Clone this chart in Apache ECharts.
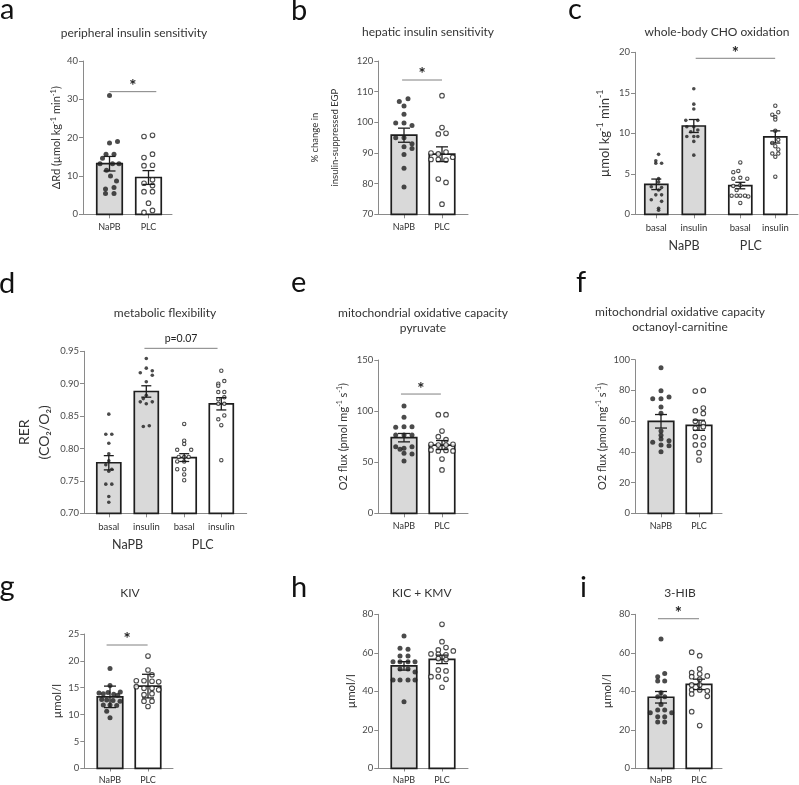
<!DOCTYPE html>
<html><head><meta charset="utf-8">
<script src="https://cdn.jsdelivr.net/npm/echarts@6/dist/echarts.min.js"></script>
<style>html,body{margin:0;padding:0;background:#fff}#c{width:799px;height:785px}</style>
</head><body><div id="c"></div>
<script>
// ================= DATA =================
// a: peripheral insulin sensitivity
const aCats = ['NaPB', 'PLC'];
const aYTicks = [0, 10, 20, 30, 40];
const aMean = [13.2, 9.6];
const aSem = [1.9, 1.8];
const aNaPB = [31.0, 19.0, 18.6, 15.7, 15.7, 14.6, 13.2, 13.2, 13.2, 11.5, 10.0, 8.7, 7.0, 6.6, 5.4, 5.4];
const aPLC = [20.3, 20.6, 14.8, 15.7, 12.7, 12.8, 9.0, 7.5, 8.1, 5.9, 5.9, 2.9, 0.5, 1.0];
// b: hepatic insulin sensitivity
const bCats = ['NaPB', 'PLC'];
const bYTicks = [70, 80, 90, 100, 110, 120];
const bMean = [95.8, 89.6];
const bSem = [2.3, 2.4];
const bNaPB = [106.8, 107.7, 105.3, 102.6, 99.8, 99.8, 99.0, 95.0, 95.0, 93.0, 92.0, 91.5, 89.5, 85.0, 78.9];
const bPLC = [108.7, 98.3, 96.2, 96.4, 90.0, 89.7, 90.3, 87.9, 87.9, 87.7, 88.6, 81.5, 80.4, 73.3];
// c: whole-body CHO oxidation
const cCats = ['basal', 'insulin', 'basal', 'insulin'];
const cGroups = ['NaPB', 'PLC'];
const cYTicks = [0, 5, 10, 15, 20];
const cMean = [3.7, 10.9, 3.55, 9.55];
const cSem = [0.65, 0.8, 0.4, 0.75];
const cNaPBBasal = [7.4, 6.6, 6.3, 6.3, 4.4, 4.0, 3.4, 3.3, 3.0, 2.4, 2.4, 1.8, 1.6, 0.75, 0.5];
const cNaPBIns = [15.5, 13.6, 13.0, 11.6, 11.6, 10.8, 10.8, 10.4, 10.2, 9.6, 9.6, 9.6, 9.0, 7.3];
const cPLCBasal = [6.4, 5.2, 5.35, 4.4, 4.5, 4.4, 3.5, 3.6, 3.0, 2.3, 2.3, 2.3, 2.3, 2.2, 1.4];
const cPLCIns = [13.4, 12.6, 12.3, 12.0, 11.7, 10.3, 9.2, 8.8, 8.4, 8.0, 7.5, 7.5, 7.1, 4.65];
// d: metabolic flexibility (RER)
const dCats = ['basal', 'insulin', 'basal', 'insulin'];
const dGroups = ['NaPB', 'PLC'];
const dYTicks = [0.70, 0.75, 0.80, 0.85, 0.90, 0.95];
const dMean = [0.778, 0.888, 0.786, 0.869];
const dSem = [0.011, 0.0088, 0.006, 0.0095];
const dNaPBBasal = [0.853, 0.822, 0.822, 0.808, 0.792, 0.781, 0.775, 0.768, 0.765, 0.745, 0.745, 0.726, 0.717];
const dNaPBIns = [0.939, 0.924, 0.917, 0.920, 0.913, 0.903, 0.882, 0.877, 0.872, 0.872, 0.869, 0.834, 0.835];
const dPLCBasal = [0.838, 0.812, 0.807, 0.798, 0.798, 0.787, 0.787, 0.787, 0.780, 0.780, 0.768, 0.768, 0.760, 0.751];
const dPLCIns = [0.920, 0.904, 0.900, 0.897, 0.887, 0.887, 0.879, 0.876, 0.869, 0.869, 0.851, 0.845, 0.836, 0.782];
// e: mitochondrial oxidative capacity, pyruvate
const eCats = ['NaPB', 'PLC'];
const eYTicks = [0, 50, 100, 150];
const eMean = [74.0, 66.8];
const eSem = [4.1, 4.4];
const eNaPB = [105, 93.9, 84.1, 84.8, 84.8, 76.6, 76.6, 76.6, 65.2, 62.6, 63.6, 65.2, 58.7, 58.1, 51.2];
const ePLC = [96.5, 96.5, 80.5, 75.0, 72.0, 67.5, 67.5, 66.8, 66.8, 62.0, 61.0, 61.5, 61.0, 53.1, 42.4];
// f: mitochondrial oxidative capacity, octanoyl-carnitine
const fCats = ['NaPB', 'PLC'];
const fYTicks = [0, 20, 40, 60, 80, 100];
const fMean = [59.9, 57.3];
const fSem = [4.4, 3.3];
const fNaPB = [94.8, 79.8, 74.6, 74.6, 75.7, 69.2, 65.1, 53.6, 50.8, 48.4, 46.2, 47.3, 44.5, 44.0, 40.1];
const fPLC = [79.6, 80.0, 66.8, 68.5, 65.0, 60.0, 58.6, 55.3, 56.4, 49.9, 49.2, 44.5, 44.5, 39.5, 34.7];
// g: KIV
const gCats = ['NaPB', 'PLC'];
const gYTicks = [0, 5, 10, 15, 20, 25];
const gMean = [13.3, 15.3];
const gSem = [2.0, 2.2];
const gNaPB = [18.6, 15.4, 14.2, 14.0, 13.9, 14.1, 13.8, 13.6, 12.8, 12.7, 12.6, 12.5, 11.8, 11.8, 11.7, 10.6, 9.4];
const gPLC = [20.9, 18.3, 17.4, 16.3, 16.3, 16.2, 16.1, 15.2, 14.9, 14.9, 14.6, 13.7, 13.9, 12.5, 12.5, 11.5];
// h: KIC + KMV
const hCats = ['NaPB', 'PLC'];
const hYTicks = [0, 20, 40, 60, 80];
const hMean = [53.2, 56.6];
const hSem = [2.2, 2.2];
const hNaPB = [68.7, 62.3, 61.8, 58.4, 58.4, 55.4, 55.4, 55.4, 55.4, 51.6, 51.6, 50.0, 45.9, 45.9, 45.9, 45.9, 34.6];
const hPLC = [74.8, 65.8, 62.7, 61.5, 61.0, 59.4, 59.2, 59.0, 57.0, 56.5, 51.1, 50.6, 47.6, 47.6, 46.2, 42.1];
// i: 3-HIB
const iCats = ['NaPB', 'PLC'];
const iYTicks = [0, 20, 40, 60, 80];
const iMean = [36.9, 43.6];
const iSem = [3.0, 2.7];
const iNaPB = [67.2, 49.2, 47.6, 45.4, 45.4, 39.3, 37.2, 37.2, 33.2, 30.3, 30.3, 28.9, 28.9, 26.8, 26.8, 24.1, 24.1];
const iPLC = [60.3, 58.5, 51.6, 49.7, 49.0, 47.6, 48.0, 46.2, 43.3, 43.3, 40.7, 40.7, 40.2, 38.6, 37.4, 29.4, 22.2];

// ================= LAYOUT (scatter jitter in px) =================
const jit = {
  aNaPB: [0, 8, 0, -3.5, 4.5, -7, -9.5, 3, 9.5, -3, 1, 7, 4.5, -4, -4, 4.5],
  aPLC: [-4.5, 4, -4.5, 4, -4.5, 4, 4, 4, -4.5, -4.5, 4, 0, -4.5, 4],
  bNaPB: [-4.7, 4, 0, 0, -8.3, 0, 8, -8.3, 0, 8, 0, 8, 0, 0, 0],
  bPLC: [0, 0, -3.7, 4, -11, -3.7, 4, -11, -3.7, 4, 10.7, -3.7, 4, 0],
  cNaPBBasal: [2.3, -0.5, -0.5, 5.3, 2.3, 2.3, -5, 5.3, 2.3, -0.5, 5.3, -5, 5.3, 2.3, 2.3],
  cNaPBIns: [0, 0, 0, -8, 4, -7, 0, 4, -3, -7, 0, 4, 0, 0],
  cPLCBasal: [0, -7, -2, -7, 0, 7, -7, 0, -3.7, -8.7, -3.7, 0, 4.7, 8, 0],
  cPLCIns: [0, 3, -3, 0, 0, 0, 3, -3, 0, 3, -3, 3, 0, 0],
  dNaPBBasal: [0, -3, 3, 0, 0, 0, -3, 3, 0, -3, 3, 0, 0],
  dNaPBIns: [0, 0, -6, 6, 6, 0, 0, -3, -6, 6, 0, -3, 3],
  dPLCBasal: [0, 0, 0, -7, 7, -5.5, 0, 4.5, -7, 0, -7, 0, 0, 0],
  dPLCIns: [0, 3, -3, -3, -3, 3, 3, -3, -3, 3, 3, -3, 0, 0],
  eNaPB: [0, 0, -8.3, 0, 8, -8.3, 0, 8, -8.3, -4, 0, 8, 0, 8, 0],
  ePLC: [-3.7, 4, 0, -3.7, 4, -11, 11, -3.7, 4, -11, -3.7, 4, 11, 0, 0],
  fNaPB: [0, 0, -8.3, 0, 8, 0, 0, 0, 0, 0, -8.3, 8, 0, 8, 0],
  fPLC: [-3.7, 4.3, -3.7, 4.3, 4.3, -3.7, 4.3, -3.7, 4.3, -3.7, 4.3, -3.7, 4.3, 0, 0],
  gNaPB: [0, 0, 10.3, -11, -6.7, -2, 3.7, 7.7, -8.3, -3.3, 3, 10, -6.7, 0, 6.7, -3.3, 0],
  gPLC: [0, 0, 4, -11.7, -4, 4, 10.7, -11.7, -4, 4, 10.7, -4, 4, -4, 4, 0],
  hNaPB: [0, -4, 4, -4, 4, -11, -4, 4, 11, -4, 4, 11, -11, -4, 4, 11, 0],
  hPLC: [0, 0, 4, -3.7, 11.3, -11, -3.7, 4, -3.7, 4, -3.7, 4, -11, -3.7, 4, 0],
  iNaPB: [0, 3.7, -3.3, -3.3, 3.7, 0, -3.3, 3.7, 0, -3.3, 3.7, -10.7, 10.7, -3.3, 3.7, -3.3, 3.7],
  iPLC: [-7.3, 0.7, 0.7, -7.3, 0.7, -7.3, 8.3, 0.7, -7.3, 0.7, -7.3, 0.7, 8.3, -7.3, 8.3, -7.3, 0.7]
};

const FONT = 'Lato, "Noto Sans", sans-serif';
const GRAY = '#d9d9d9', DARK = '#1e1e1e', AX = '#8a8a8a', LBL = '#4a4a4a', TXT = '#333333', SIG = '#808080';

const base2 = {barW: 25.5, cap: 12, dot: 5, open: 4.6, tickFont: 9.5, catFont: 9, catMargin: 8.5, nameFont: 11, supFont: 7.5};
const base4 = {barW: 23, cap: 10, dot: 3.6, open: 3.4, tickFont: 9.5, catFont: 9.5, catMargin: 8.5, nameFont: 11, supFont: 7.5};

const panels = [
  {L: Object.assign({}, base2, {x0: 83, x1: 172, yTop: 61, yBot: 214.3, centers: [109.5, 148.5], nameGap: 18}),
   cats: aCats, yTicks: aYTicks, mean: aMean, sem: aSem, pts: [aNaPB, aPLC], jit: [jit.aNaPB, jit.aPLC],
   open: [false, true], yName: 'ΔRd (µmol kg{s|-1} min{s|-1})', sig: {x: [0, 1.2], y: 32, text: '*'}},
  {L: Object.assign({}, base2, {x0: 378.3, x1: 468, yTop: 61, yBot: 214.3, centers: [404, 442], nameGap: 33, nameFont: 9.5, nameLH: 20}),
   cats: bCats, yTicks: bYTicks, mean: bMean, sem: bSem, pts: [bNaPB, bPLC], jit: [jit.bNaPB, jit.bPLC],
   open: [false, true], yName: '% change in\ninsulin-suppressed EGP', sig: {x: [-0.05, 1.0], y: 113.8, text: '*'}},
  {L: Object.assign({}, base4, {x0: 635, x1: 798, yTop: 52.3, yBot: 214.3, centers: [656.3, 693.8, 740.3, 775.3], nameGap: 22, nameFont: 13, supFont: 9, groupPad: [[0, 0, 0, 18], [0, 14, 0, 0]]}),
   cats: cCats, groups: cGroups, yTicks: cYTicks, mean: cMean, sem: cSem,
   pts: [cNaPBBasal, cNaPBIns, cPLCBasal, cPLCIns], jit: [jit.cNaPBBasal, jit.cNaPBIns, jit.cPLCBasal, jit.cPLCIns],
   open: [false, false, true, true], yName: 'µmol kg{s|-1} min{s|-1}', sig: {x: [1.05, 3.17], y: 19.26, text: '*'}},
  {L: Object.assign({}, base4, {barW: 24, x0: 84, x1: 246.7, yTop: 351.3, yBot: 513.3, centers: [108.8, 146.3, 184.2, 221.3], nameGap: 30, nameFont: 14, nameLH: 20}),
   cats: dCats, groups: dGroups, yTicks: dYTicks, mean: dMean, sem: dSem, fmt: v => v.toFixed(2),
   pts: [dNaPBBasal, dNaPBIns, dPLCBasal, dPLCIns], jit: [jit.dNaPBBasal, jit.dNaPBIns, jit.dPLCBasal, jit.dPLCIns],
   open: [false, false, true, true], yName: 'RER\n(CO₂/O₂)', sig: {x: [0.95, 2.9], y: 0.9546, text: 'p=0.07', plain: true}},
  {L: Object.assign({}, base2, {x0: 378.3, x1: 468, yTop: 360, yBot: 513.3, centers: [404, 442], nameGap: 28, supFont: 7}),
   cats: eCats, yTicks: eYTicks, mean: eMean, sem: eSem, pts: [eNaPB, ePLC], jit: [jit.eNaPB, jit.ePLC],
   open: [false, true], yName: 'O2 flux (pmol mg{s|-1} s{s|-1})', sig: {x: [-0.08, 0.97], y: 116.7, text: '*'}},
  {L: Object.assign({}, base2, {x0: 635, x1: 722, yTop: 359.7, yBot: 513.3, centers: [661, 699], nameGap: 25, supFont: 7}),
   cats: fCats, yTicks: fYTicks, mean: fMean, sem: fSem, pts: [fNaPB, fPLC], jit: [jit.fNaPB, jit.fPLC],
   open: [false, true], yName: 'O2 flux (pmol mg{s|-1} s{s|-1})'},
  {L: Object.assign({}, base2, {x0: 84.3, x1: 173, yTop: 634, yBot: 768.3, centers: [110, 148], nameGap: 19, nameFont: 11.5}),
   cats: gCats, yTicks: gYTicks, mean: gMean, sem: gSem, pts: [gNaPB, gPLC], jit: [jit.gNaPB, jit.gPLC],
   open: [false, true], yName: 'µmol/l', sig: {x: [-0.09, 0.99], y: 22.95, text: '*'}},
  {L: Object.assign({}, base2, {x0: 378.3, x1: 468, yTop: 614.3, yBot: 768.3, centers: [404, 442], nameGap: 19, nameFont: 11.5}),
   cats: hCats, yTicks: hYTicks, mean: hMean, sem: hSem, pts: [hNaPB, hPLC], jit: [jit.hNaPB, jit.hPLC],
   open: [false, true], yName: 'µmol/l'},
  {L: Object.assign({}, base2, {x0: 635, x1: 722, yTop: 614.3, yBot: 768.3, centers: [661, 699], nameGap: 18, nameFont: 11.5}),
   cats: iCats, yTicks: iYTicks, mean: iMean, sem: iSem, pts: [iNaPB, iPLC], jit: [jit.iNaPB, jit.iPLC],
   open: [false, true], yName: 'µmol/l', sig: {x: [-0.08, 1.0], y: 77.7, text: '*'}}
];

const texts = [
  {t: 'a', x: 0, y: 18.5, letter: true}, {t: 'b', x: 291, y: 19.5, letter: true}, {t: 'c', x: 568, y: 18.5, letter: true},
  {t: 'd', x: -1, y: 292.5, letter: true}, {t: 'e', x: 291, y: 291.7, letter: true}, {t: 'f', x: 576, y: 291.7, letter: true},
  {t: 'g', x: -0.5, y: 595.5, letter: true}, {t: 'h', x: 291, y: 596.5, letter: true}, {t: 'i', x: 580, y: 597, letter: true},
  {t: 'peripheral insulin sensitivity', x: 134, y: 33},
  {t: 'hepatic insulin sensitivity', x: 428, y: 32.3},
  {t: 'whole-body CHO oxidation', x: 717, y: 32.3},
  {t: 'metabolic flexibility', x: 165, y: 312.7},
  {t: 'mitochondrial oxidative capacity\npyruvate', x: 423, y: 320.5},
  {t: 'mitochondrial oxidative capacity\noctanoyl-carnitine', x: 680, y: 319.5},
  {t: 'KIV', x: 130, y: 592.7},
  {t: 'KIC + KMV', x: 421.7, y: 592.7},
  {t: '3-HIB', x: 680, y: 593.3}
];

// ================= BUILD =================
const grids = [], xAxes = [], yAxes = [], series = [];

function build(p) {
  const L = p.L;
  const c0 = L.centers[0], s = L.centers[1] - L.centers[0];
  const pos = L.centers.map(c => (c - c0) / s);
  const yt = p.yTicks;
  const yMin = yt[0], yMax = yt[yt.length - 1], yInt = +(yt[1] - yt[0]).toFixed(10);
  const gi = grids.length;
  grids.push({left: L.x0, top: L.yTop, width: L.x1 - L.x0, height: L.yBot - L.yTop});
  const xi = xAxes.length;
  xAxes.push({gridIndex: gi, type: 'value', min: (L.x0 - c0) / s, max: (L.x1 - c0) / s,
    axisLine: {show: true, onZero: false, lineStyle: {color: AX, width: 1}},
    axisTick: {show: false}, axisLabel: {show: false}, splitLine: {show: false}});
  const yi = yAxes.length;
  const lh = L.nameLH || Math.round(L.nameFont * 1.3);
  yAxes.push({gridIndex: gi, type: 'value', min: yMin, max: yMax, interval: yInt,
    axisLine: {show: true, onZero: false, lineStyle: {color: AX, width: 1}},
    axisTick: {show: true, length: 4, lineStyle: {color: AX}},
    axisLabel: {color: LBL, fontFamily: FONT, fontSize: L.tickFont, margin: 5, formatter: p.fmt},
    splitLine: {show: false},
    name: p.yName, nameLocation: 'middle', nameRotate: 90, nameGap: L.nameGap,
    nameTextStyle: {fontFamily: FONT, fontSize: L.nameFont, color: TXT, lineHeight: lh,
      rich: {s: {fontFamily: FONT, fontSize: L.supFont, color: TXT, verticalAlign: 'top', lineHeight: Math.round(L.supFont * 0.8)}}}});

  // bars
  series.push({type: 'custom', xAxisIndex: xi, yAxisIndex: yi, z: 2, silent: true,
    data: p.mean.map((m, k) => [pos[k], m, yMin, k]),
    renderItem: (params, api) => {
      const x = api.value(0), k = api.value(3);
      const top = api.coord([x, api.value(1)]), bot = api.coord([x, api.value(2)]);
      return {type: 'rect', shape: {x: top[0] - L.barW / 2, y: top[1], width: L.barW, height: bot[1] - top[1]},
        style: {fill: p.open[k] ? '#ffffff' : GRAY, stroke: DARK, lineWidth: 1.7}};
    }});

  // points
  p.pts.forEach((vals, k) => {
    const open = p.open[k];
    series.push({type: 'scatter', xAxisIndex: xi, yAxisIndex: yi, z: 3, silent: true, symbol: 'circle',
      symbolSize: open ? L.open : L.dot,
      itemStyle: open ? {color: '#ffffff', borderColor: DARK, borderWidth: 1.1} : {color: DARK},
      data: vals.map((v, i) => ({value: [pos[k], v], symbolOffset: [p.jit[k][i], 0]}))});
  });

  // error bars (mean ± SEM)
  series.push({type: 'custom', xAxisIndex: xi, yAxisIndex: yi, z: 4, silent: true,
    data: p.mean.map((m, k) => [pos[k], m - p.sem[k], m + p.sem[k]]),
    renderItem: (params, api) => {
      const x = api.value(0);
      const lo = api.coord([x, api.value(1)]), hi = api.coord([x, api.value(2)]);
      const st = {stroke: DARK, lineWidth: 1.3};
      const h = L.cap / 2;
      return {type: 'group', children: [
        {type: 'line', shape: {x1: hi[0], y1: hi[1], x2: lo[0], y2: lo[1]}, style: st},
        {type: 'line', shape: {x1: hi[0] - h, y1: hi[1], x2: hi[0] + h, y2: hi[1]}, style: st},
        {type: 'line', shape: {x1: lo[0] - h, y1: lo[1], x2: lo[0] + h, y2: lo[1]}, style: st}
      ]};
    }});

  // significance annotation
  if (p.sig) {
    const sg = p.sig;
    series.push({type: 'custom', xAxisIndex: xi, yAxisIndex: yi, z: 5, silent: true,
      data: [[sg.x[0], sg.x[1], sg.y]],
      renderItem: (params, api) => {
        const a = api.coord([api.value(0), api.value(2)]), b = api.coord([api.value(1), api.value(2)]);
        return {type: 'group', children: [
          {type: 'line', shape: {x1: a[0], y1: a[1], x2: b[0], y2: b[1]}, style: {stroke: SIG, lineWidth: 1}},
          {type: 'text', x: (a[0] + b[0]) / 2, y: a[1] - (sg.plain ? 9.5 : 5),
            style: {text: sg.text, textAlign: 'center', textVerticalAlign: 'middle',
              font: sg.plain ? ('10.5px ' + FONT) : ('bold 17px ' + FONT), fill: '#222'}}
        ]};
      }});
  }

  // category label axes (ticks under bar centres)
  const groups = p.groups ? [[0, 1], [2, 3]] : [[0, 1]];
  groups.forEach((idx, gk) => {
    const ca = L.centers[idx[0]], cb = L.centers[idx[1]], w = cb - ca;
    const g2 = grids.length;
    grids.push({left: ca - w / 2, top: L.yTop, width: 2 * w, height: L.yBot - L.yTop});
    xAxes.push({gridIndex: g2, type: 'category', data: idx.map(i => p.cats[i]),
      axisLine: {show: false, onZero: false},
      axisTick: {show: true, alignWithLabel: true, length: 4, lineStyle: {color: AX}},
      axisLabel: {fontFamily: FONT, fontSize: L.catFont, color: TXT, margin: L.catMargin, interval: 0},
      splitLine: {show: false},
      name: p.groups ? p.groups[gk] : '', nameLocation: 'middle', nameGap: 25,
      nameTextStyle: {fontFamily: FONT, fontSize: 12.5, color: TXT,
        padding: (L.groupPad ? L.groupPad[gk] : [0, 0, 0, 0])}});
    yAxes.push({gridIndex: g2, type: 'value', show: false, min: 0, max: 1});
  });
}
panels.forEach(build);

const LETTER = 29;
const graphic = texts.map(o => o.letter ?
  {type: 'text', x: o.x, y: o.y - 0.3225 * LETTER, silent: true,
    style: {text: o.t, textAlign: 'left', textVerticalAlign: 'middle', font: LETTER + 'px ' + FONT, fill: '#111'}} :
  {type: 'text', x: o.x, y: o.y, silent: true,
    style: {text: o.t, textAlign: 'center', textVerticalAlign: 'middle', font: '12px ' + FONT, fill: TXT, lineHeight: 15.5}});

const chart = echarts.init(document.getElementById('c'), null, {renderer: 'canvas'});
chart.setOption({animation: false, backgroundColor: '#ffffff', grid: grids, xAxis: xAxes, yAxis: yAxes, series: series, graphic: graphic});
</script>
</body></html>
